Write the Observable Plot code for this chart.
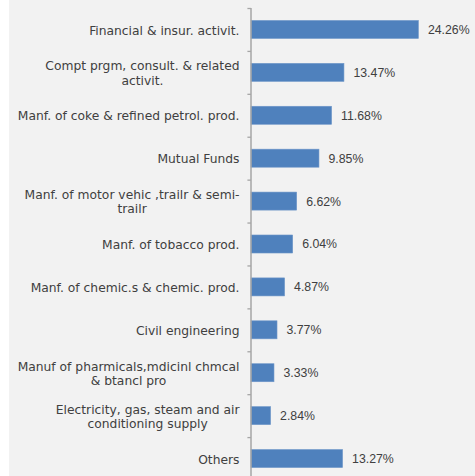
<!DOCTYPE html>
<html>
<head>
<meta charset="utf-8">
<script src="https://cdn.jsdelivr.net/npm/d3@7"></script>
<script src="https://cdn.jsdelivr.net/npm/@observablehq/plot@0.6"></script>
<style>
  html, body { margin: 0; padding: 0; background: #ffffff; }
  #chart svg { display: block; }
</style>
</head>
<body>
<div id="chart"></div>
<script>
const categories = [
  "Financial & insur. activit.",
  "Compt prgm, consult. & related\nactivit.",
  "Manf. of coke & refined petrol. prod.",
  "Mutual Funds",
  "Manf. of motor vehic ,trailr & semi-\ntrailr",
  "Manf. of tobacco prod.",
  "Manf. of chemic.s & chemic. prod.",
  "Civil engineering",
  "Manuf of pharmicals,mdicinl chmcal\n& btancl pro",
  "Electricity, gas, steam and air\nconditioning supply",
  "Others"
];
const values = [24.26, 13.47, 11.68, 9.85, 6.62, 6.04, 4.87, 3.77, 3.33, 2.84, 13.27];
const valueLabels = ["24.26%", "13.47%", "11.68%", "9.85%", "6.62%", "6.04%", "4.87%", "3.77%", "3.33%", "2.84%", "13.27%"];

const W = 475, H = 476;
const marginLeft = 251, marginRight = 17;
const xMax = 30;
const pxPerUnit = (W - marginLeft - marginRight) / xMax;
const yTop = 8, yBottom = 480;
const step = (yBottom - yTop) / categories.length;
const labelFont = "DejaVu Sans";
const labelSize = 12.3;
const labelGap = 12;

// measure the widest line of each label so multi-line labels are centred as a block, right-aligned to the axis
const ctx = document.createElement("canvas").getContext("2d");
ctx.font = `${labelSize}px "${labelFont}"`;
const blockWidth = c => d3.max(c.split("\n"), s => ctx.measureText(s).width);

const data = categories.map((c, i) => ({
  category: c,
  value: values[i],
  label: valueLabels[i],
  labelX: -(labelGap + blockWidth(c) / 2) / pxPerUnit
}));

const chart = Plot.plot({
  width: W,
  height: H,
  marginLeft,
  marginRight,
  marginTop: yTop,
  marginBottom: 0,
  style: {background: "linear-gradient(to right, #ffffff 9px, #f2f2f2 9px)", fontFamily: labelFont, fontSize: "12px", color: "#404040"},
  x: {domain: [0, xMax], axis: null},
  y: {domain: categories, range: [yTop, yBottom], paddingInner: 0.58, paddingOuter: 0.29, round: false, axis: null},
  marks: [
    Plot.barX(data, {y: "category", x: "value", fill: "#4f81bd", stroke: "#6f97c9", strokeWidth: 0.6}),
    Plot.text(data, {y: "category", x: "value", text: "label", textAnchor: "start", dx: 9, fill: "#404040", fontSize: labelSize, fontFamily: "Liberation Sans, Arial, sans-serif"}),
    Plot.text(data, {y: "category", x: "labelX", text: "category", textAnchor: "middle", fill: "#404040", fontSize: labelSize, fontFamily: labelFont, lineHeight: 1.17}),
    Plot.ruleY(categories, {y: d => d, x1: -0.52, x2: 0, dy: -step / 2, stroke: "#a6a6a6", strokeWidth: 1.3}),
    Plot.ruleX([0], {stroke: "#a6a6a6", strokeWidth: 1.5, dx: -0.5})
  ]
});
document.getElementById("chart").appendChild(chart);
</script>
</body>
</html>
